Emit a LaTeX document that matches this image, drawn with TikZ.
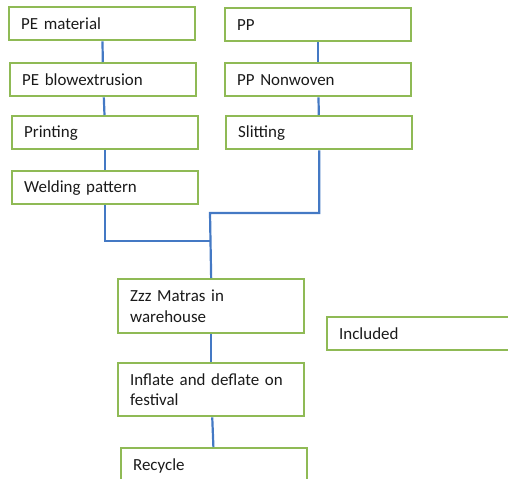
\documentclass[tikz,border=0pt]{standalone}
\usepackage{fontspec}
\setmainfont{Carlito}
\usepackage{xcolor}
\usepackage{tikz}
\usetikzlibrary{arrows.meta,positioning,calc}
\definecolor{boxgreen}{HTML}{8FBA55}
\definecolor{linkblue}{HTML}{4479C4}
\definecolor{ink}{HTML}{1A1A1A}

\begin{document}
\begin{tikzpicture}[x=1bp,y=-1bp,font=\fontsize{17}{20.7}\selectfont,
  stage/.style={draw=boxgreen,line width=2.3bp,fill=white,text=ink,anchor=north west,
    text width=162bp,inner xsep=12bp,inner ysep=0pt,minimum height=33bp,align=left},
  link/.style={draw=linkblue,line width=2.2bp}]
\useasboundingbox (0,0) rectangle (508,479);
\node[stage] (pemat) at (8,6) {PE material};
\node[stage] (blow) at (9,62) {PE blowextrusion};
\node[stage] (print) at (11,115) {Printing};
\node[stage] (weld) at (11,170) {Welding pattern};
\node[stage] (pp) at (224,7) {PP};
\node[stage] (nonwoven) at (224,62) {PP Nonwoven};
\node[stage] (slit) at (225,115) {Slitting};
\node[stage,minimum height=54bp] (matras) at (117,278) {Zzz Matras in\\warehouse};
\node[stage] (included) at (326,316) {Included};
\node[stage,minimum height=53bp] (festival) at (117,362) {Inflate and deflate on\\festival};
\node[stage,minimum height=36bp] (recycle) at (120,447) {Recycle};
\coordinate (bend) at (210,213);
\coordinate (merge) at (210,241);
\draw[link] (pemat) -- (blow);
\draw[link] (blow) -- (print);
\draw[link] (print) -- (weld);
\draw[link] (pp) -- (nonwoven);
\draw[link] (nonwoven) -- (slit);
\draw[link] (slit.south) |- (bend) -- (matras.north);
\draw[link] (weld.south) |- (merge);
\draw[link] (matras) -- (festival);
\draw[link] (festival) -- (recycle);
\end{tikzpicture}
\end{document}
